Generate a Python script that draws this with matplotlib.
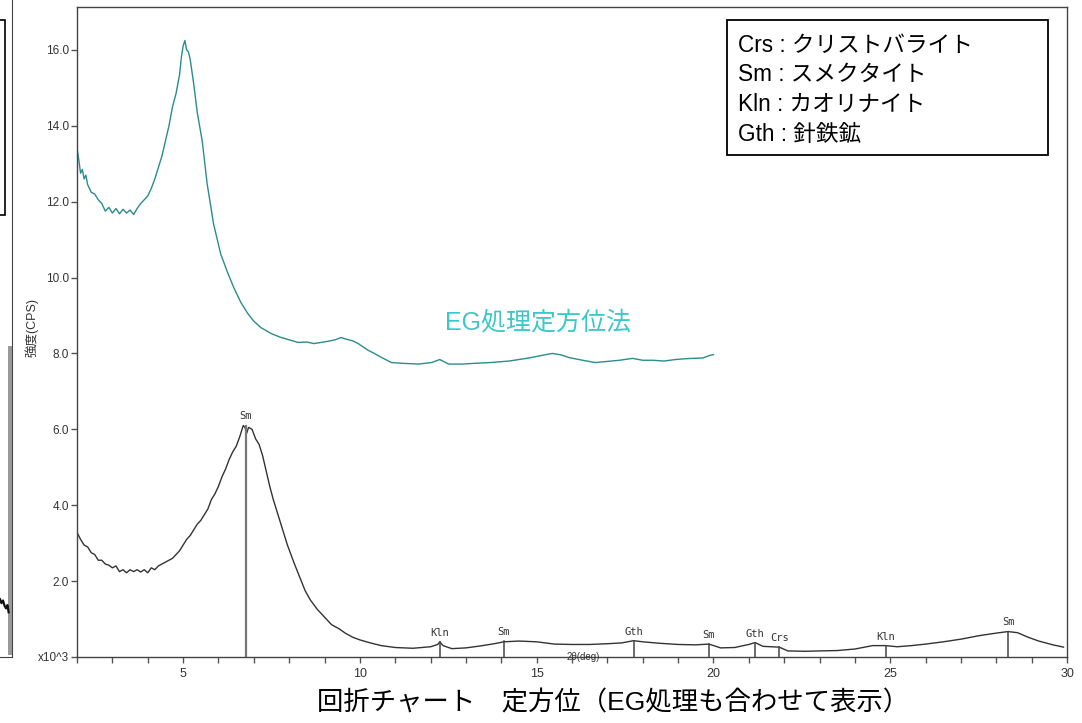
import matplotlib
matplotlib.use("Agg")
import matplotlib.pyplot as plt
from matplotlib.patches import Rectangle

plt.rcParams['font.family'] = ['Liberation Sans', 'Noto Sans CJK JP', 'DejaVu Sans']

# EG処理定方位法 (teal)
eg_x = [2.0, 2.05, 2.1, 2.15, 2.2, 2.25, 2.3, 2.4, 2.5, 2.6, 2.7, 2.8, 2.9, 3.0,
        3.1, 3.2, 3.3, 3.4, 3.5, 3.6, 3.7, 3.8, 3.9, 4.0, 4.1, 4.2, 4.3, 4.4,
        4.5, 4.6, 4.7, 4.8, 4.9, 4.95, 5.0, 5.05, 5.1, 5.15, 5.2, 5.3, 5.4,
        5.54, 5.68, 5.86, 6.06, 6.25, 6.43, 6.63, 6.83, 7.0, 7.2, 7.5, 7.77,
        8.0, 8.25, 8.5, 8.7, 8.9, 9.1, 9.3, 9.47, 9.6, 9.8, 9.95, 10.24, 10.41,
        10.6, 10.89, 11.2, 11.66, 12.03, 12.26, 12.51, 12.9, 13.25, 13.7, 14.22,
        14.78, 15.1, 15.44, 15.7, 15.92, 16.3, 16.66, 17.0, 17.34, 17.71, 18.0,
        18.28, 18.6, 18.93, 19.2, 19.41, 19.7, 19.9, 20.0]
eg_y = [13.4, 13.1, 12.75, 12.85, 12.6, 12.7, 12.45, 12.25, 12.2, 12.05, 11.95,
        11.75, 11.85, 11.7, 11.82, 11.68, 11.8, 11.7, 11.78, 11.66, 11.82, 11.95,
        12.05, 12.15, 12.35, 12.6, 12.9, 13.2, 13.6, 14.0, 14.5, 14.85, 15.35,
        15.8, 16.1, 16.25, 16.0, 15.95, 15.75, 15.1, 14.35, 13.6, 12.47, 11.42,
        10.63, 10.15, 9.74, 9.35, 9.05, 8.85, 8.68, 8.52, 8.42, 8.36, 8.29, 8.3,
        8.26, 8.29, 8.32, 8.36, 8.42, 8.38, 8.33, 8.26, 8.08, 8.0, 7.9, 7.76,
        7.74, 7.72, 7.76, 7.84, 7.72, 7.72, 7.74, 7.76, 7.8, 7.88, 7.94, 8.0,
        7.96, 7.89, 7.82, 7.76, 7.79, 7.82, 7.87, 7.82, 7.82, 7.8, 7.84, 7.86,
        7.87, 7.88, 7.95, 7.97]

# 定方位 (black)
or_x = [2.0, 2.1, 2.2, 2.3, 2.4, 2.5, 2.6, 2.7, 2.8, 2.9, 3.0, 3.1, 3.2, 3.3,
        3.4, 3.5, 3.6, 3.7, 3.8, 3.9, 4.0, 4.1, 4.2, 4.3, 4.4, 4.5, 4.6, 4.7,
        4.8, 4.9, 5.0, 5.1, 5.2, 5.3, 5.4, 5.5, 5.6, 5.7, 5.8, 5.9, 6.0, 6.1,
        6.2, 6.3, 6.4, 6.5, 6.6, 6.7, 6.75, 6.8, 6.85, 6.95, 7.05, 7.15, 7.25,
        7.35, 7.45, 7.55, 7.65, 7.75, 7.85, 7.95, 8.05, 8.15, 8.3, 8.45, 8.6,
        8.8, 9.0, 9.2, 9.4, 9.6, 9.8, 10.0, 10.3, 10.6, 11.0, 11.5, 12.0, 12.2,
        12.26, 12.35, 12.6, 13.0, 13.4, 13.8, 14.07, 14.5, 15.0, 15.5, 16.0,
        16.5, 17.0, 17.4, 17.74, 18.0, 18.5, 19.0, 19.5, 19.87, 20.2, 20.6, 21.0,
        21.18, 21.4, 21.86, 22.1, 22.6, 23.0, 23.5, 24.0, 24.5, 24.87, 25.2,
        25.6, 26.0, 26.5, 27.0, 27.5, 28.0, 28.33, 28.6, 28.9, 29.2, 29.6, 29.9]
or_y = [3.28, 3.1, 2.95, 2.9, 2.75, 2.7, 2.55, 2.55, 2.45, 2.42, 2.35, 2.4, 2.25,
        2.3, 2.22, 2.3, 2.25, 2.3, 2.24, 2.3, 2.22, 2.35, 2.3, 2.4, 2.45, 2.5,
        2.55, 2.6, 2.7, 2.8, 2.95, 3.1, 3.2, 3.35, 3.5, 3.6, 3.75, 3.9, 4.15,
        4.3, 4.5, 4.75, 4.95, 5.2, 5.4, 5.55, 5.8, 6.1, 6.05, 5.9, 6.05, 6.0,
        5.75, 5.6, 5.3, 4.9, 4.5, 4.15, 3.85, 3.55, 3.25, 2.95, 2.7, 2.45, 2.1,
        1.75, 1.5, 1.25, 1.05, 0.85, 0.75, 0.62, 0.52, 0.45, 0.37, 0.3, 0.25,
        0.23, 0.27, 0.33, 0.4, 0.3, 0.22, 0.24, 0.29, 0.35, 0.4, 0.42, 0.4, 0.34,
        0.33, 0.33, 0.35, 0.37, 0.43, 0.4, 0.36, 0.33, 0.32, 0.34, 0.24, 0.25,
        0.33, 0.38, 0.28, 0.26, 0.16, 0.15, 0.16, 0.17, 0.21, 0.3, 0.3, 0.27,
        0.3, 0.34, 0.4, 0.47, 0.56, 0.63, 0.67, 0.64, 0.52, 0.42, 0.32, 0.26]

# peak identification
peak_names = ['Sm', 'Kln', 'Sm', 'Gth', 'Sm', 'Gth', 'Crs', 'Kln', 'Sm']
peak_pos = [6.77, 12.26, 14.07, 17.74, 19.87, 21.18, 21.86, 24.87, 28.33]
peak_top = [6.1, 0.4, 0.42, 0.43, 0.34, 0.37, 0.26, 0.29, 0.67]

legend_lines = ['Crs : クリストバライト', 'Sm : スメクタイト', 'Kln : カオリナイト', 'Gth : 針鉄鉱']

# clipped neighbouring chart at the left edge (axes fraction)
frag_x = [0.0, 0.12, 0.25, 0.38, 0.5, 0.62, 0.72]
frag_y = [0.088, 0.082, 0.086, 0.078, 0.074, 0.079, 0.068]

fig = plt.figure(figsize=(10.82, 7.23), dpi=100)

# left fragment
ax0 = fig.add_axes([0.0, 0.0913, 0.0111, 0.9087])
ax0.set_xlim(0, 1)
ax0.set_ylim(0, 1)
ax0.plot(frag_x, frag_y, color='#111111', lw=1.6)
ax0.add_patch(Rectangle((0.68, 0.003), 0.32, 0.47, color='#9a9a9a', lw=0))
ax0.add_patch(Rectangle((-0.5, 0.673), 0.92, 0.297, fill=False, ec='black',
                        lw=1.2, clip_on=False))
for s in ['top', 'left']:
    ax0.spines[s].set_visible(False)
for s in ['right', 'bottom']:
    ax0.spines[s].set_color('#444444')
ax0.set_xticks([])
ax0.set_yticks([])

# main chart
ax = fig.add_axes([0.0712, 0.0913, 0.9150, 0.8990])
ax.plot(eg_x, eg_y, color='#2b8c8c', lw=1.0)
ax.plot(or_x, or_y, color='#333333', lw=1.0)

for name, xp, top in zip(peak_names, peak_pos, peak_top):
    big = top > 3
    ax.plot([xp, xp], [0, top], color='#777777' if big else '#444444',
            lw=1.6 if big else 1.1)
    ax.annotate(name, (xp, top), xytext=(0, 3), textcoords='offset points',
                ha='center', va='bottom', fontsize=7.5, color='#333333',
                family='DejaVu Sans Mono')

ax.text(15.04, 8.82, 'EG処理定方位法', color='#3cc8c8', fontsize=18,
        ha='center', va='center')

ax.set_xlim(2, 30)
ax.set_ylim(0, 17.13)
ax.set_xticks([5, 10, 15, 20, 25, 30])
ax.set_xticks(range(2, 31), minor=True)
ax.set_yticks([0, 2, 4, 6, 8, 10, 12, 14, 16])
ax.set_yticklabels(['x10^3', '2.0', '4.0', '6.0', '8.0', '10.0', '12.0', '14.0', '16.0'])
ax.tick_params(axis='both', which='both', direction='out', length=4, width=1,
               color='#555555', labelsize=8.5, labelcolor='#333333', pad=2)
ax.tick_params(axis='x', labelsize=9, pad=4)
for s in ax.spines.values():
    s.set_color('#444444')
    s.set_linewidth(1.0)

# legend box (figure pixels -> fraction)
W, H = 1082, 723
fig.add_artist(Rectangle((727 / W, 1 - 155 / H), 321 / W, 135 / H, fill=False,
                         ec='black', lw=1.3, transform=fig.transFigure))
for i, line in enumerate(legend_lines):
    fig.text(738 / W, 1 - (45 + 29.7 * i) / H, line, fontsize=16.3,
             ha='left', va='center', color='black')

fig.text(32 / W, 1 - 328 / H, '強度(CPS)', rotation=90, fontsize=9,
         ha='center', va='center', color='#333333')
fig.text(583 / W, 1 - 657 / H, '2θ(deg)', fontsize=7, ha='center',
         va='center', color='#333333')
fig.text(613 / W, 1 - 703 / H, '回折チャート　定方位（EG処理も合わせて表示）',
         fontsize=19, ha='center', va='center', color='black')

fig.savefig('out.png', dpi=100)
